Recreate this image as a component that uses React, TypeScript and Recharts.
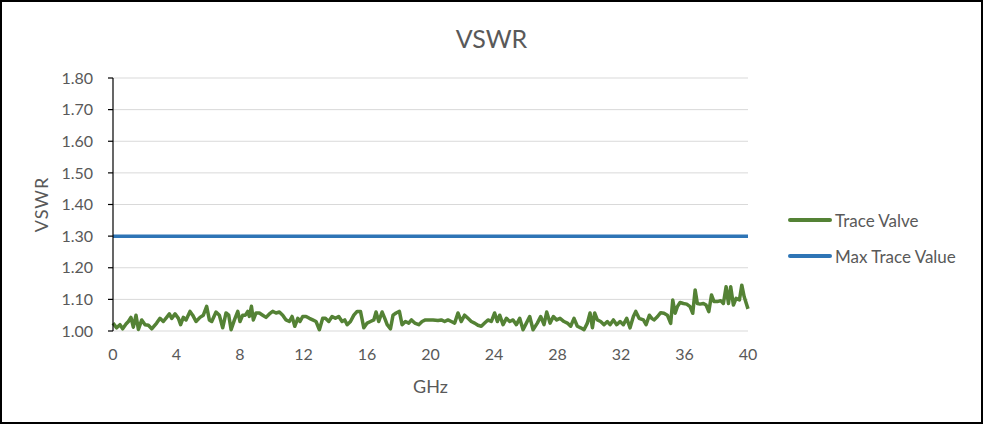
import React from 'react';
import { LineChart, Line, XAxis, YAxis, CartesianGrid, Label } from 'recharts';

const TITLE = 'VSWR';
const X_LABEL = 'GHz';
const Y_LABEL = 'VSWR';
const SERIES_TRACE = 'Trace Valve';
const SERIES_MAX = 'Max Trace Value';
const MAX_TRACE = 1.3;

const xTicks = [0, 4, 8, 12, 16, 20, 24, 28, 32, 36, 40];
const yTicks = [1.0, 1.1, 1.2, 1.3, 1.4, 1.5, 1.6, 1.7, 1.8];

const freq = [
  0, 0.23, 0.44, 0.61, 0.82, 0.97, 1.13, 1.28, 1.45, 1.6, 1.81, 2.02, 2.23, 2.44, 2.75, 2.96, 3.17, 3.38, 3.55, 3.7,
  3.91, 4.12, 4.26, 4.43, 4.6, 4.85, 5.02, 5.23, 5.48, 5.69, 5.9, 6.07, 6.22, 6.49, 6.7, 6.91, 7.12, 7.29, 7.44, 7.65,
  7.86, 8.0, 8.17, 8.34, 8.49, 8.59, 8.72, 8.84, 9.01, 9.22, 9.43, 9.64, 9.85, 10.06, 10.27, 10.48, 10.69, 10.9, 11.11, 11.28,
  11.45, 11.64, 11.78, 11.95, 12.16, 12.37, 12.58, 12.79, 13.0, 13.21, 13.38, 13.59, 13.8, 14.01, 14.22, 14.43, 14.6, 14.75, 14.96, 15.17,
  15.38, 15.59, 15.8, 16.01, 16.22, 16.43, 16.57, 16.74, 16.95, 17.12, 17.27, 17.48, 17.64, 17.83, 18.04, 18.21, 18.42, 18.63, 18.8, 19.01,
  19.26, 19.47, 19.68, 19.84, 20.16, 20.47, 20.68, 20.89, 21.1, 21.31, 21.52, 21.73, 21.94, 22.15, 22.36, 22.57, 22.78, 22.99, 23.2, 23.41,
  23.62, 23.83, 24.04, 24.21, 24.36, 24.57, 24.78, 24.99, 25.2, 25.41, 25.62, 25.83, 26.04, 26.25, 26.46, 26.73, 26.94, 27.15, 27.32, 27.53,
  27.74, 27.95, 28.16, 28.41, 28.62, 28.83, 29.04, 29.25, 29.46, 29.67, 29.88, 30.05, 30.2, 30.34, 30.51, 30.72, 30.93, 31.14, 31.31, 31.52,
  31.73, 31.94, 32.15, 32.36, 32.57, 32.78, 32.93, 33.14, 33.41, 33.58, 33.79, 33.94, 34.08, 34.29, 34.5, 34.71, 34.92, 35.13, 35.26, 35.41,
  35.55, 35.72, 35.93, 36.14, 36.35, 36.52, 36.67, 36.81, 36.98, 37.19, 37.36, 37.53, 37.7, 37.86, 38.07, 38.28, 38.45, 38.62, 38.77, 38.91,
  39.08, 39.25, 39.46, 39.61, 39.76, 40.0,
];

const trace = [
  1.025, 1.01, 1.02, 1.007, 1.022, 1.03, 1.043, 1.012, 1.05, 1.005, 1.035, 1.02, 1.018, 1.007, 1.025, 1.04, 1.03, 1.043, 1.054, 1.04,
  1.054, 1.04, 1.02, 1.043, 1.035, 1.062, 1.05, 1.03, 1.043, 1.05, 1.078, 1.035, 1.03, 1.06, 1.05, 1.01, 1.057, 1.05, 1.004, 1.035,
  1.062, 1.03, 1.05, 1.05, 1.062, 1.046, 1.078, 1.035, 1.057, 1.057, 1.05, 1.043, 1.054, 1.062, 1.057, 1.06, 1.05, 1.035, 1.03, 1.046,
  1.015, 1.04, 1.03, 1.046, 1.046, 1.04, 1.035, 1.03, 1.004, 1.04, 1.04, 1.03, 1.046, 1.04, 1.046, 1.03, 1.035, 1.02, 1.03, 1.05,
  1.062, 1.062, 1.01, 1.025, 1.03, 1.035, 1.06, 1.03, 1.06, 1.04, 1.02, 1.007, 1.05, 1.057, 1.062, 1.02, 1.03, 1.025, 1.035, 1.025,
  1.02, 1.03, 1.035, 1.035, 1.035, 1.033, 1.035, 1.03, 1.035, 1.03, 1.025, 1.057, 1.03, 1.05, 1.04, 1.03, 1.025, 1.018, 1.015, 1.025,
  1.035, 1.03, 1.057, 1.03, 1.05, 1.02, 1.04, 1.03, 1.035, 1.02, 1.04, 1.004, 1.025, 1.046, 1.004, 1.025, 1.046, 1.02, 1.06, 1.025,
  1.046, 1.035, 1.04, 1.03, 1.025, 1.015, 1.04, 1.015, 1.01, 1.004, 1.025, 1.057, 1.01, 1.057, 1.035, 1.03, 1.02, 1.03, 1.02, 1.035,
  1.02, 1.03, 1.02, 1.04, 1.01, 1.046, 1.062, 1.04, 1.035, 1.02, 1.05, 1.04, 1.035, 1.045, 1.058, 1.056, 1.05, 1.024, 1.098, 1.056,
  1.077, 1.09, 1.087, 1.085, 1.077, 1.056, 1.13, 1.087, 1.085, 1.087, 1.082, 1.061, 1.114, 1.093, 1.093, 1.096, 1.087, 1.14, 1.087, 1.14,
  1.082, 1.103, 1.098, 1.145, 1.108, 1.07,
];

const data = freq.map((f, i) => ({ ghz: f, trace: trace[i], max: MAX_TRACE }));

const GREEN = '#548235';
const BLUE = '#2e75b6';
const TEXT = '#595959';
const FONT = 'Lato, "Open Sans", sans-serif';

const legendItems = [
  { name: SERIES_TRACE, color: GREEN },
  { name: SERIES_MAX, color: BLUE },
];

export default function App() {
  return (
    <div
      style={{
        position: 'absolute',
        left: 0,
        top: 0,
        width: 983,
        height: 424,
        boxSizing: 'border-box',
        border: '2px solid #000',
        background: '#fff',
        fontFamily: FONT,
        overflow: 'hidden',
      }}
    >
      <div
        style={{
          position: 'absolute',
          left: 0,
          top: 21,
          width: 979,
          textAlign: 'center',
          fontSize: 25,
          color: TEXT,
          lineHeight: '30px',
        }}
      >
        {TITLE}
      </div>
      <div style={{ position: 'absolute', left: -2, top: -2 }}>
        <LineChart
          width={983}
          height={424}
          data={data}
          margin={{ top: 78, right: 235, bottom: 33, left: 0 }}
        >
          <CartesianGrid vertical={false} stroke="#d9d9d9" />
          <XAxis
            dataKey="ghz"
            type="number"
            domain={[0, 40]}
            ticks={xTicks}
            axisLine={false}
            tickLine={false}
            tickSize={0}
            tickMargin={18}
            height={60}
            tick={{ fill: TEXT, fontSize: 16, fontFamily: FONT }}
            interval={0}
          >
            <Label
              content={(props: any) => {
                const vb = props.viewBox || { x: 0, y: 0, width: 0, height: 0 };
                const cx = vb.x + vb.width / 2;
                const cy = vb.y + 55;
                return (
                  <text x={cx} y={cy} textAnchor="middle" dominantBaseline="central" fill={TEXT} fontSize={18} fontFamily={FONT}>
                    {X_LABEL}
                  </text>
                );
              }}
            />
          </XAxis>
          <YAxis
            type="number"
            domain={[1, 1.8]}
            ticks={yTicks}
            width={113}
            axisLine={{ stroke: '#000', strokeWidth: 1.2 }}
            tickLine={{ stroke: '#000', strokeWidth: 1.2 }}
            tickSize={5}
            tickMargin={15}
            tickFormatter={(v: number) => v.toFixed(2)}
            tick={{ fill: TEXT, fontSize: 16, fontFamily: FONT }}
            interval={0}
          >
            <Label
              content={(props: any) => {
                const vb = props.viewBox || { x: 0, y: 0, width: 0, height: 0 };
                const cx = vb.x + 41;
                const cy = vb.y + vb.height / 2;
                return (
                  <text
                    x={cx}
                    y={cy}
                    transform={`rotate(-90 ${cx} ${cy})`}
                    textAnchor="middle"
                    dominantBaseline="central"
                    fill={TEXT}
                    fontSize={18}
                    fontFamily={FONT}
                    letterSpacing={1}
                  >
                    {Y_LABEL}
                  </text>
                );
              }}
            />
          </YAxis>
          <Line
            type="linear"
            dataKey="max"
            name={SERIES_MAX}
            stroke={BLUE}
            strokeWidth={3.5}
            dot={false}
            activeDot={false}
            isAnimationActive={false}
          />
          <Line
            type="linear"
            dataKey="trace"
            name={SERIES_TRACE}
            stroke={GREEN}
            strokeWidth={3.5}
            strokeLinejoin="round"
            dot={false}
            activeDot={false}
            isAnimationActive={false}
          />
        </LineChart>
      </div>
      <div style={{ position: 'absolute', left: 786, top: 200 }}>
        {legendItems.map((it) => (
          <div key={it.name} style={{ display: 'flex', alignItems: 'center', height: 36 }}>
            <div style={{ width: 44, height: 4, background: it.color, borderRadius: 2 }} />
            <span style={{ marginLeft: 3, fontSize: 17, color: TEXT, whiteSpace: 'nowrap' }}>{it.name}</span>
          </div>
        ))}
      </div>
    </div>
  );
}
